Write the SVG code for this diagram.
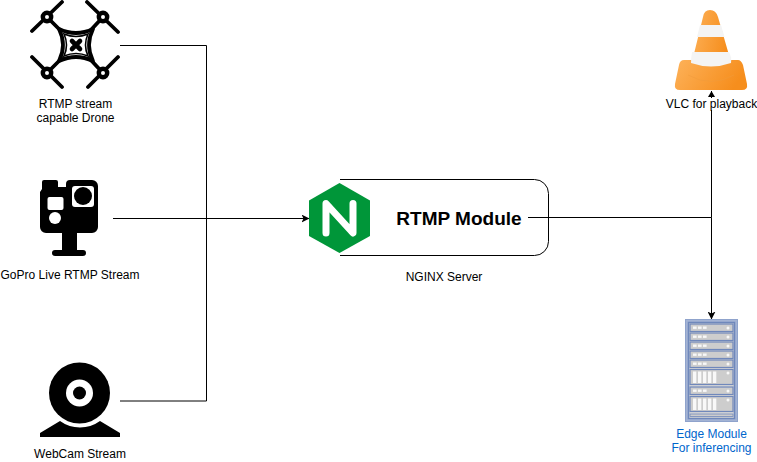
<svg xmlns="http://www.w3.org/2000/svg" width="757" height="462" viewBox="0 0 757 462">
<style>
text{font-family:"Liberation Sans",Arial,sans-serif;font-size:12px;fill:#000;text-anchor:middle}
.w{fill:none;stroke:#000;stroke-width:1}
.blade{fill:none;stroke:#000;stroke-width:3.8;stroke-linecap:round}
.r{fill:#fff;stroke:#000;stroke-width:4.400}
.u{fill:#cdcdcd;stroke:#7088bb;stroke-width:1.200}
.wh{fill:#f8f8f8}
</style>
<defs>
<marker id="a" markerWidth="8" markerHeight="8" refX="7.500" refY="4" orient="auto" markerUnits="userSpaceOnUse"><path d="M0 0L8 4L0 8L2 4Z" fill="#000"/></marker>
<linearGradient id="or" x1="0" y1="0" x2="1" y2="0.3"><stop offset="0" stop-color="#fdb25a"/><stop offset="1" stop-color="#f68e1d"/></linearGradient>
<g id="unit"><rect class="u" x="0" y="0" width="43" height="7.500"/><rect class="wh" x="3" y="2.500" width="3.600" height="2.400"/><rect class="wh" x="8" y="2.500" width="3.600" height="2.400"/><rect class="wh" x="13" y="2.500" width="3.600" height="2.400"/><circle class="wh" cx="38" cy="4" r="1.500"/></g>
<g id="big"><rect class="u" x="0" y="0" width="43" height="15"/><rect class="wh" x="3" y="2" width="3.300" height="11.500"/><rect class="wh" x="8" y="2" width="3.300" height="11.500"/><rect class="wh" x="13" y="2" width="3.300" height="11.500"/><rect class="wh" x="18" y="2" width="3.300" height="11.500"/><rect class="wh" x="23" y="2" width="3.300" height="11.500"/><circle class="wh" cx="38" cy="3.500" r="1.500"/></g>
</defs>
<g id="connectors">
<path class="w" d="M120 45.500H206.500V401H120"/>
<path class="w" d="M113 218.500H309" marker-end="url(#a)"/>
<path class="w" d="M528 217.500H711.500"/>
<path class="w" d="M711.500 217.500V91"/>
<path d="M711.500 91L715 97H708Z" fill="#000"/>
<path class="w" d="M711.500 217.500V319" marker-end="url(#a)"/>
</g>
<g id="drone">
<g class="blade">
<path d="M32 31L62 2M87 2L118 32M32 57L62 87M118 57L88 87"/>
<path d="M47 17L62 32M103 17L89 32M47 73L62 58M103 73L89 58"/>
</g>
<circle class="r" cx="47" cy="17" r="4.200"/>
<circle class="r" cx="103" cy="17" r="4.200"/>
<circle class="r" cx="47" cy="73" r="4.200"/>
<circle class="r" cx="103" cy="73" r="4.200"/>
<path d="M59 29Q76 37 93 29Q85 45 93 61Q76 53 59 61Q67 45 59 29Z" fill="#fff" stroke="#000" stroke-width="3.800" stroke-linejoin="round"/>
<path d="M64 34Q76 39 88 34Q83 45 88 56Q76 51 64 56Q69 45 64 34Z" fill="#fff" stroke="#000" stroke-width="1.600"/>
<path d="M72 41L80 49M80 41L72 49" stroke="#000" stroke-width="4.600" stroke-linecap="round"/>
<text x="75.500" y="108">RTMP stream</text>
<text x="75.500" y="122">capable Drone</text>
</g>
<g id="gopro">
<path d="M42 182a2 2 0 0 1 2-2H56a2 2 0 0 1 2 2V187H66V184a4 4 0 0 1 4-4H92a6 6 0 0 1 6 6V227a6 6 0 0 1-6 6H77V250H83a3 3 0 0 1 0 6H55a3 3 0 0 1 0-6H62V233H46a6 6 0 0 1-6-6V192L42 189Z" fill="#000"/>
<rect x="72" y="186" width="22" height="21" rx="3" fill="#fff"/>
<circle cx="83" cy="196" r="9" fill="#000"/>
<rect x="47.500" y="197" width="16" height="13" rx="2" fill="#fff"/>
<circle cx="55" cy="218" r="6" fill="#fff"/>
<text x="70" y="279">GoPro Live RTMP Stream</text>
</g>
<g id="webcam">
<circle cx="79.500" cy="393" r="30.500" fill="#000"/>
<circle cx="79.500" cy="393" r="13.500" fill="#fff"/>
<circle cx="79.500" cy="393" r="6.500" fill="#000"/>
<path d="M40 437V433L60 421A34 34 0 0 0 100 421L120 433V437Z" fill="#000"/>
<text x="80" y="458">WebCam Stream</text>
</g>
<g id="nginx">
<path d="M340 179.500H534.500A14 14 0 0 1 548.500 193.500V241.500A14 14 0 0 1 534.500 255.500H340" fill="none" stroke="#000"/>
<path d="M339.500 183L370 200.500V236L339.500 253L309 236V200.500Z" fill="#009639"/>
<path d="M326 233V203.500L353 233V203.500" fill="none" stroke="#fff" stroke-width="7" stroke-linecap="round" stroke-linejoin="round"/>
<text x="459" y="225" style="font-size:19px;font-weight:bold">RTMP Module</text>
<text x="444" y="281">NGINX Server</text>
</g>
<g id="vlc">
<path d="M682 60H738Q741 60 743 65L747 84Q748 90 742 90H680Q674 90 675 84L679 65Q680 60 684 60Z" fill="url(#or)"/>
<path d="M703 17Q704 10 710 10Q716 10 718 17L731 62Q711 70 692 62Z" fill="url(#or)"/>
<path d="M700 25H721L724.500 37H697Z" fill="#f4f4f4"/>
<path d="M692 52H729Q732 58 731 63Q711 70 691 63Q691 58 692 52Z" fill="#f4f4f4"/>
<path d="M688 75Q711 88 734 75" fill="none" stroke="#ef9a3c" stroke-width="0.500"/>
<rect x="665" y="98" width="93" height="12" fill="#fff"/>
<text x="711.500" y="108">VLC for playback</text>
</g>
<g id="edge">
<rect x="685.500" y="319.500" width="52" height="102" fill="#a3b3d4" stroke="#8fa3cc"/>
<rect x="688.500" y="322.500" width="46" height="96" fill="#d8d8d8" stroke="#6f88bb" stroke-width="1.500"/>
<use href="#unit" x="690" y="324"/>
<use href="#unit" x="690" y="333"/>
<use href="#unit" x="690" y="342"/>
<use href="#unit" x="690" y="351"/>
<use href="#unit" x="690" y="360"/>
<use href="#big" x="690" y="369.500"/>
<use href="#unit" x="690" y="387"/>
<use href="#big" x="690" y="396.500"/>
<rect x="690" y="414" width="43" height="2.500" fill="#cdcdcd" stroke="#7088bb" stroke-width="0.800"/>
<text x="711.500" y="438" style="fill:#0066cc">Edge Module</text>
<text x="711.500" y="452" style="fill:#0066cc">For inferencing</text>
</g>
</svg>
